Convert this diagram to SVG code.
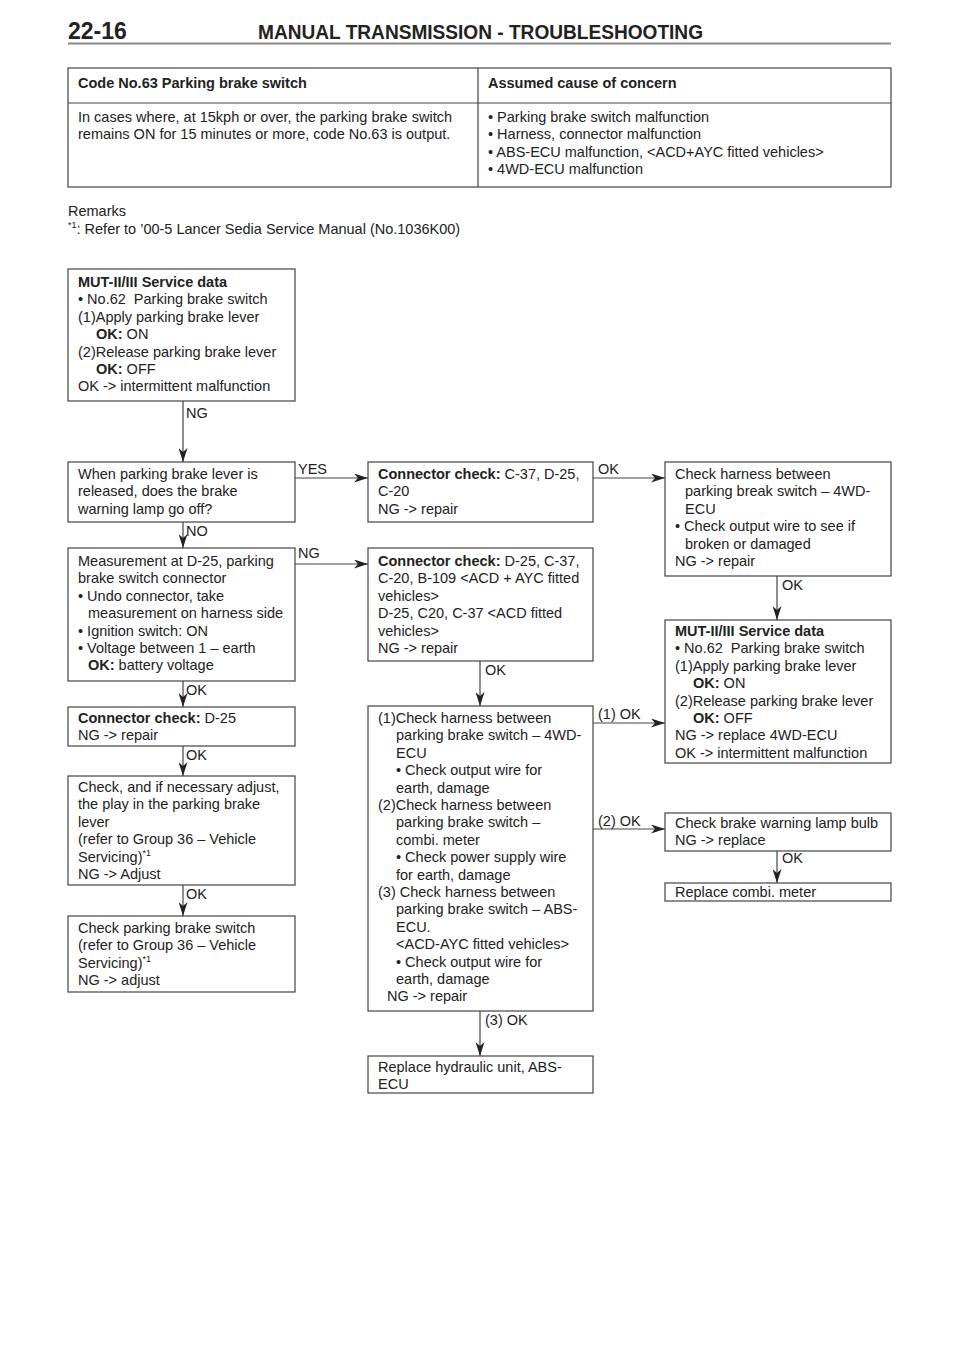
<svg xmlns="http://www.w3.org/2000/svg" width="960" height="1358" viewBox="0 0 960 1358">
<style>
text{font-family:"Liberation Sans",Arial,sans-serif;font-size:14.5px;fill:#222}
.b{font-weight:bold}
.box{fill:#fff;stroke:#444;stroke-width:1.2}
.ln{stroke:#444;stroke-width:1.2;fill:none}
.c{stroke:#444;stroke-width:1.2;fill:none;marker-end:url(#ah)}
.sup{font-size:9px}
</style>
<defs>
<marker id="ah" markerWidth="15" markerHeight="9" refX="14" refY="4.5" orient="auto" markerUnits="userSpaceOnUse">
<path d="M0,0 L14,4.5 L0,9 L4,4.5 Z" fill="#222"/>
</marker>
</defs>
<rect width="960" height="1358" fill="#fff"/>
<g id="header">
<text x="68" y="39" class="b" style="font-size:23px">22-16</text>
<text x="258" y="39" class="b" style="font-size:21px" textLength="445" lengthAdjust="spacingAndGlyphs">MANUAL TRANSMISSION - TROUBLESHOOTING</text>
<line x1="68" y1="43.5" x2="891" y2="43.5" stroke="#888" stroke-width="2"/>
</g>
<g id="table">
<rect x="68" y="68" width="823" height="119" class="box"/>
<line x1="68" y1="103" x2="891" y2="103" class="ln"/>
<line x1="478" y1="68" x2="478" y2="187" class="ln"/>
<text x="78" y="88" class="b">Code No.63 Parking brake switch</text>
<text x="488" y="88" class="b">Assumed cause of concern</text>
<text x="78" y="122">In cases where, at 15kph or over, the parking brake switch</text>
<text x="78" y="139.4">remains ON for 15 minutes or more, code No.63 is output.</text>
<text x="488" y="122">• Parking brake switch malfunction</text>
<text x="488" y="139.4">• Harness, connector malfunction</text>
<text x="488" y="156.8">• ABS-ECU malfunction, &lt;ACD+AYC fitted vehicles&gt;</text>
<text x="488" y="174.2">• 4WD-ECU malfunction</text>
</g>
<g id="remarks">
<text x="68" y="216">Remarks</text>
<text x="68" y="234"><tspan class="sup" dy="-6">*1</tspan><tspan dy="6">: Refer to ’00-5 Lancer Sedia Service Manual (No.1036K00)</tspan></text>
</g>
<g id="connectors">
<line x1="183" y1="401" x2="183" y2="462" class="c"/>
<text x="186" y="418">NG</text>
<line x1="295" y1="478" x2="368" y2="478" class="c"/>
<text x="298" y="474">YES</text>
<line x1="593" y1="478" x2="665" y2="478" class="c"/>
<text x="598" y="474">OK</text>
<line x1="183" y1="522" x2="183" y2="548" class="c"/>
<text x="186" y="536">NO</text>
<line x1="295" y1="564" x2="368" y2="564" class="c"/>
<text x="298" y="558">NG</text>
<line x1="777" y1="576" x2="777" y2="620" class="c"/>
<text x="782" y="590">OK</text>
<line x1="480" y1="661" x2="480" y2="706" class="c"/>
<text x="485" y="675">OK</text>
<line x1="183" y1="681" x2="183" y2="707" class="c"/>
<text x="186" y="695">OK</text>
<line x1="183" y1="746" x2="183" y2="776" class="c"/>
<text x="186" y="760">OK</text>
<line x1="183" y1="885" x2="183" y2="916" class="c"/>
<text x="186" y="899">OK</text>
<line x1="593" y1="723" x2="665" y2="723" class="c"/>
<text x="598" y="719">(1) OK</text>
<line x1="593" y1="829" x2="665" y2="829" class="c"/>
<text x="598" y="826">(2) OK</text>
<line x1="777" y1="851" x2="777" y2="883" class="c"/>
<text x="782" y="863">OK</text>
<line x1="480" y1="1011" x2="480" y2="1056" class="c"/>
<text x="485" y="1025">(3) OK</text>
</g>
<g id="n1">
<rect x="68" y="269" width="227" height="132" class="box"/>
<text x="78" y="287" class="b">MUT-II/III Service data</text>
<text x="78" y="304.4" xml:space="preserve">• No.62  Parking brake switch</text>
<text x="78" y="321.8">(1)Apply parking brake lever</text>
<text x="96" y="339.2"><tspan class="b">OK:</tspan> ON</text>
<text x="78" y="356.6">(2)Release parking brake lever</text>
<text x="96" y="374"><tspan class="b">OK:</tspan> OFF</text>
<text x="78" y="391.4">OK -&gt; intermittent malfunction</text>
</g>
<g id="n2">
<rect x="68" y="462" width="227" height="60" class="box"/>
<text x="78" y="479">When parking brake lever is</text>
<text x="78" y="496.4">released, does the brake</text>
<text x="78" y="513.8">warning lamp go off?</text>
</g>
<g id="n3">
<rect x="368" y="462" width="225" height="60" class="box"/>
<text x="378" y="479"><tspan class="b">Connector check:</tspan> C-37, D-25,</text>
<text x="378" y="496.4">C-20</text>
<text x="378" y="513.8">NG -&gt; repair</text>
</g>
<g id="n4">
<rect x="665" y="462" width="226" height="114" class="box"/>
<text x="675" y="479">Check harness between</text>
<text x="685" y="496.4">parking break switch – 4WD-</text>
<text x="685" y="513.8">ECU</text>
<text x="675" y="531.2">• Check output wire to see if</text>
<text x="685" y="548.6">broken or damaged</text>
<text x="675" y="566">NG -&gt; repair</text>
</g>
<g id="n5">
<rect x="68" y="548" width="227" height="133" class="box"/>
<text x="78" y="566">Measurement at D-25, parking</text>
<text x="78" y="583.4">brake switch connector</text>
<text x="78" y="600.8">• Undo connector, take</text>
<text x="88" y="618.2">measurement on harness side</text>
<text x="78" y="635.6">• Ignition switch: ON</text>
<text x="78" y="653">• Voltage between 1 – earth</text>
<text x="88" y="670.4"><tspan class="b">OK:</tspan> battery voltage</text>
</g>
<g id="n6">
<rect x="368" y="548" width="225" height="113" class="box"/>
<text x="378" y="566"><tspan class="b">Connector check:</tspan> D-25, C-37,</text>
<text x="378" y="583.4">C-20, B-109 &lt;ACD + AYC fitted</text>
<text x="378" y="600.8">vehicles&gt;</text>
<text x="378" y="618.2">D-25, C20, C-37 &lt;ACD fitted</text>
<text x="378" y="635.6">vehicles&gt;</text>
<text x="378" y="653">NG -&gt; repair</text>
</g>
<g id="n7">
<rect x="665" y="620" width="226" height="143" class="box"/>
<text x="675" y="636" class="b">MUT-II/III Service data</text>
<text x="675" y="653.4" xml:space="preserve">• No.62  Parking brake switch</text>
<text x="675" y="670.8">(1)Apply parking brake lever</text>
<text x="693" y="688.2"><tspan class="b">OK:</tspan> ON</text>
<text x="675" y="705.6">(2)Release parking brake lever</text>
<text x="693" y="723"><tspan class="b">OK:</tspan> OFF</text>
<text x="675" y="740.4">NG -&gt; replace 4WD-ECU</text>
<text x="675" y="757.8">OK -&gt; intermittent malfunction</text>
</g>
<g id="n8">
<rect x="68" y="707" width="227" height="39" class="box"/>
<text x="78" y="723"><tspan class="b">Connector check:</tspan> D-25</text>
<text x="78" y="740.4">NG -&gt; repair</text>
</g>
<g id="n9">
<rect x="368" y="706" width="225" height="305" class="box"/>
<text x="378" y="723">(1)Check harness between</text>
<text x="396" y="740.4">parking brake switch – 4WD-</text>
<text x="396" y="757.8">ECU</text>
<text x="396" y="775.2">• Check output wire for</text>
<text x="396" y="792.6">earth, damage</text>
<text x="378" y="810">(2)Check harness between</text>
<text x="396" y="827.4">parking brake switch –</text>
<text x="396" y="844.8">combi. meter</text>
<text x="396" y="862.2">• Check power supply wire</text>
<text x="396" y="879.6">for earth, damage</text>
<text x="378" y="897">(3) Check harness between</text>
<text x="396" y="914.4">parking brake switch – ABS-</text>
<text x="396" y="931.8">ECU.</text>
<text x="396" y="949.2">&lt;ACD-AYC fitted vehicles&gt;</text>
<text x="396" y="966.6">• Check output wire for</text>
<text x="396" y="984">earth, damage</text>
<text x="387" y="1001.4">NG -&gt; repair</text>
</g>
<g id="n10">
<rect x="665" y="813" width="226" height="38" class="box"/>
<text x="675" y="828">Check brake warning lamp bulb</text>
<text x="675" y="845.4">NG -&gt; replace</text>
</g>
<g id="n11">
<rect x="665" y="883" width="226" height="18" class="box"/>
<text x="675" y="897">Replace combi. meter</text>
</g>
<g id="n12">
<rect x="68" y="776" width="227" height="109" class="box"/>
<text x="78" y="792">Check, and if necessary adjust,</text>
<text x="78" y="809.4">the play in the parking brake</text>
<text x="78" y="826.8">lever</text>
<text x="78" y="844.2">(refer to Group 36 – Vehicle</text>
<text x="78" y="861.6">Servicing)<tspan class="sup" dy="-6">*1</tspan></text>
<text x="78" y="879">NG -&gt; Adjust</text>
</g>
<g id="n13">
<rect x="68" y="916" width="227" height="76" class="box"/>
<text x="78" y="933">Check parking brake switch</text>
<text x="78" y="950.4">(refer to Group 36 – Vehicle</text>
<text x="78" y="967.8">Servicing)<tspan class="sup" dy="-6">*1</tspan></text>
<text x="78" y="985.2">NG -&gt; adjust</text>
</g>
<g id="n14">
<rect x="368" y="1056" width="225" height="37" class="box"/>
<text x="378" y="1072">Replace hydraulic unit, ABS-</text>
<text x="378" y="1089.4">ECU</text>
</g>
</svg>
